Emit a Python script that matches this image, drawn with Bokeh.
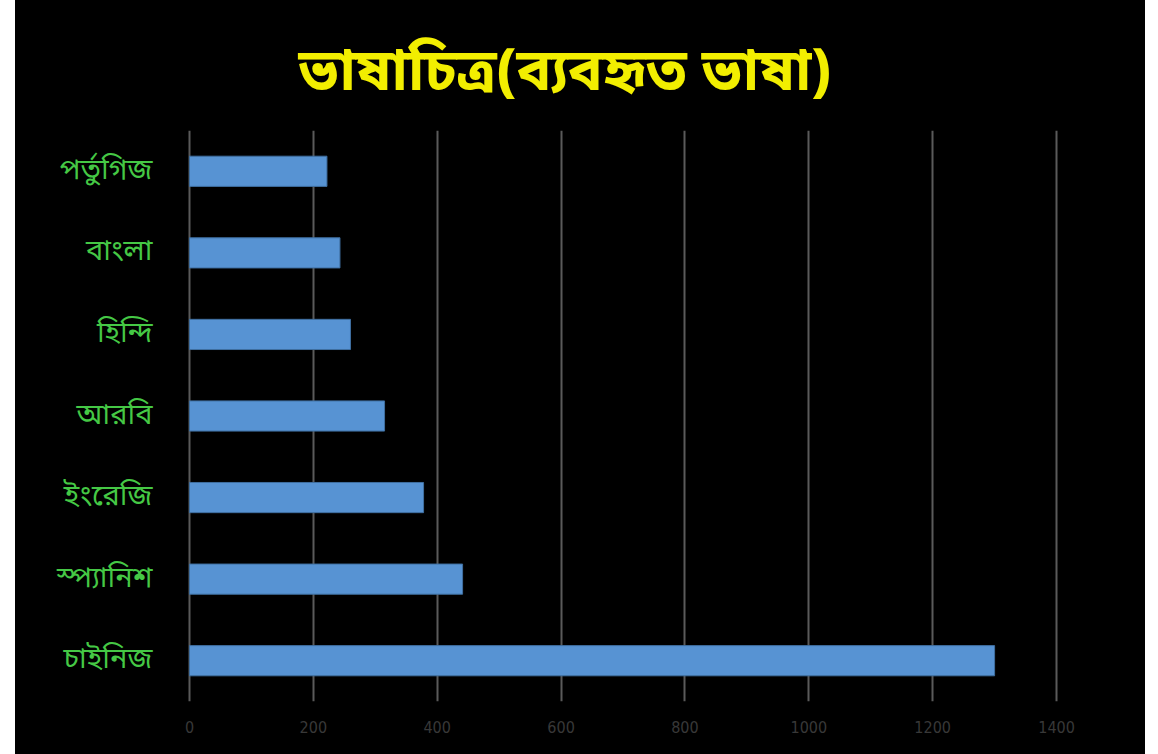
from bokeh.plotting import figure
from bokeh.models import Range1d, FactorRange, FixedTicker, Spacer
from bokeh.layouts import row
from bokeh.embed import file_html
from bokeh.resources import INLINE

# Data (bottom to top)
languages = ["চাইনিজ", "স্প্যানিশ", "ইংরেজি", "আরবি", "হিন্দি", "বাংলা", "পর্তুগিজ"]
speakers = [1300, 441, 378, 315, 260, 243, 222]
x_ticks = [0, 200, 400, 600, 800, 1000, 1200, 1400]
title_text = "ভাষাচিত্র(ব্যবহৃত ভাষা)"

BN_FONT = "Noto Sans Bengali, Lohit Bengali, Vrinda, Noto Sans, sans-serif"

p = figure(
    width=1130, height=754,
    y_range=FactorRange(*languages),
    x_range=Range1d(-8, 1450),
    output_backend="svg", toolbar_location=None,
    background_fill_color="black", border_fill_color="black",
    min_border_left=169, min_border_right=58,
    min_border_top=130, min_border_bottom=53,
    styles={"background-color": "black"},
)
p.outline_line_color = None

p.hbar(y=languages, right=speakers, left=0, height=0.37,
       fill_color="#5793d3", line_color="#3f6fa0", line_width=1)

# grid
p.ygrid.grid_line_color = None
p.xgrid.ticker = FixedTicker(ticks=x_ticks)
p.xgrid.grid_line_color = "#5a5a5a"
p.xgrid.grid_line_width = 2

# x axis
p.xaxis.ticker = FixedTicker(ticks=x_ticks)
p.xaxis.axis_line_color = None
p.xaxis.major_tick_line_color = None
p.xaxis.minor_tick_line_color = None
p.xaxis.major_label_text_color = "#383838"
p.xaxis.major_label_text_font = "Liberation Sans Narrow, DejaVu Sans Condensed, sans-serif"
p.xaxis.major_label_text_font_size = "16px"
p.xaxis.major_label_standoff = 13

# y axis
p.yaxis.axis_line_color = None
p.yaxis.major_tick_line_color = None
p.yaxis.minor_tick_line_color = None
p.yaxis.major_label_text_color = "#45c845"
p.yaxis.major_label_text_font = BN_FONT
p.yaxis.major_label_text_font_size = "29px"
p.yaxis.major_label_text_font_style = "normal"
p.yaxis.major_label_standoff = 26

# title
p.title.text = title_text
p.title.align = "left"
p.title.offset = 114
p.title.text_color = "#f2ee00"
p.title.text_font = BN_FONT
p.title.text_font_size = "58px"
p.title.text_font_style = "bold"
p.title.standoff = 34

layout = row(Spacer(width=15, height=754), p)

open("out.html", "w").write(file_html(layout, INLINE))
